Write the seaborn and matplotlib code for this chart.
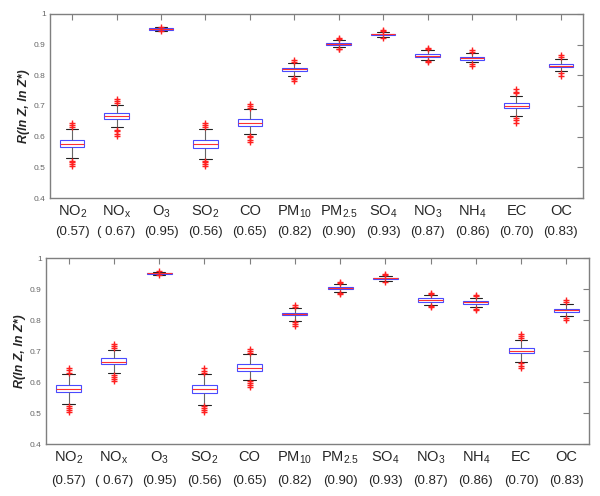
import numpy as np
import pandas as pd
import seaborn as sns
import matplotlib
matplotlib.use("Agg")
import matplotlib.pyplot as plt

# categories / labels
names = ['NO$_2$', 'NO$_x$', 'O$_3$', 'SO$_2$', 'CO', 'PM$_{10}$', 'PM$_{2.5}$',
         'SO$_4$', 'NO$_3$', 'NH$_4$', 'EC', 'OC']
r_labels = ['(0.57)', '( 0.67)', '(0.95)', '(0.56)', '(0.65)', '(0.82)', '(0.90)',
            '(0.93)', '(0.87)', '(0.86)', '(0.70)', '(0.83)']

# box statistics
wlo = [0.529, 0.630, 0.946, 0.527, 0.608, 0.798, 0.891, 0.926, 0.850, 0.842, 0.666, 0.813]
q1 = [0.567, 0.657, 0.949, 0.563, 0.636, 0.815, 0.900, 0.931, 0.859, 0.851, 0.692, 0.826]
med = [0.577, 0.666, 0.951, 0.576, 0.646, 0.819, 0.903, 0.934, 0.864, 0.857, 0.701, 0.832]
q3 = [0.589, 0.677, 0.953, 0.589, 0.657, 0.823, 0.907, 0.936, 0.870, 0.861, 0.709, 0.837]
whi = [0.625, 0.703, 0.956, 0.625, 0.690, 0.839, 0.915, 0.941, 0.881, 0.872, 0.734, 0.852]

# outliers (red +)
out_lo = [[0.522, 0.517, 0.510, 0.503], [0.622, 0.617, 0.609, 0.603], [0.944],
          [0.522, 0.517, 0.511, 0.503], [0.603, 0.598, 0.590, 0.583], [0.792, 0.787, 0.782],
          [0.887, 0.885], [0.922], [0.846, 0.843], [0.837, 0.831],
          [0.661, 0.653, 0.646], [0.807, 0.799]]
out_hi = [[0.630, 0.639, 0.646], [0.709, 0.717, 0.723], [0.958],
          [0.630, 0.637, 0.644], [0.695, 0.701, 0.707], [0.843, 0.850],
          [0.920, 0.923], [0.945, 0.948], [0.885, 0.888], [0.876, 0.882],
          [0.741, 0.747, 0.755], [0.859, 0.866]]

yticks = [0.4, 0.5, 0.6, 0.7, 0.8, 0.9, 1.0]
ytick_labels = ['0.4', '0.5', '0.6', '0.7', '0.8', '0.9', '1']

# long-form tables
core = pd.DataFrame({
    'pol': np.repeat(names, 5),
    'R': np.column_stack([wlo, q1, med, q3, whi]).ravel(),
})
fl_x, fl_y = [], []
for i, (lo, hi) in enumerate(zip(out_lo, out_hi)):
    for v in lo + hi:
        fl_x.append(i)  # category slot on the categorical axis
        fl_y.append(v)
fliers = pd.DataFrame({'pos': fl_x, 'R': fl_y})

sns.set_style("white")
plt.rcParams['font.family'] = ['Liberation Sans', 'DejaVu Sans']
plt.rcParams['mathtext.default'] = 'regular'

fig = plt.figure(figsize=(6, 4.96), dpi=100)
ax1 = fig.add_axes([0.0833, 0.6008, 0.8884, 0.3710])
ax2 = fig.add_axes([0.0767, 0.1048, 0.9050, 0.3750])

grey = '#7f7f7f'
red = '#ff2020'
for ax, voff in [(ax1, -0.185), (ax2, -0.20)]:
    sns.boxplot(data=core, x='pol', y='R', order=names, whis=(0, 100), width=0.55,
                showfliers=False, ax=ax,
                boxprops=dict(facecolor='none', edgecolor='#4a4aff', linewidth=0.8),
                medianprops=dict(color='#ff3030', linewidth=0.8),
                whiskerprops=dict(color='#666666', linewidth=0.8),
                capprops=dict(color='#222222', linewidth=0.8))
    sns.scatterplot(data=fliers, x='pos', y='R', marker='+', color=red, s=20,
                    linewidth=1.0, zorder=3, legend=False, ax=ax)
    ax.set_xlim(-0.5, 11.5)
    ax.set_ylim(0.4, 1.0)
    ax.set_yticks(yticks)
    ax.set_yticklabels(ytick_labels)
    ax.set_xticks(range(len(names)))
    ax.set_xticklabels(names)
    ax.set_xlabel('')
    ax.set_ylabel('R(ln Z, ln Z*)', fontsize=9, fontweight='bold', fontstyle='italic',
                  labelpad=3)
    ax.tick_params(direction='in', length=4, width=0.8, color=grey,
                   top=True, right=True)
    ax.tick_params(axis='y', labelsize=6, labelcolor='#666666', pad=3)
    ax.tick_params(axis='x', labelsize=10.5, pad=4)
    for s in ax.spines.values():
        s.set_color(grey)
        s.set_linewidth(1)
    for i, lab in enumerate(r_labels):
        ax.text(i, voff, lab, transform=ax.get_xaxis_transform(), ha='center',
                va='center', fontsize=9.5)

fig.savefig('out.png', dpi=100)
